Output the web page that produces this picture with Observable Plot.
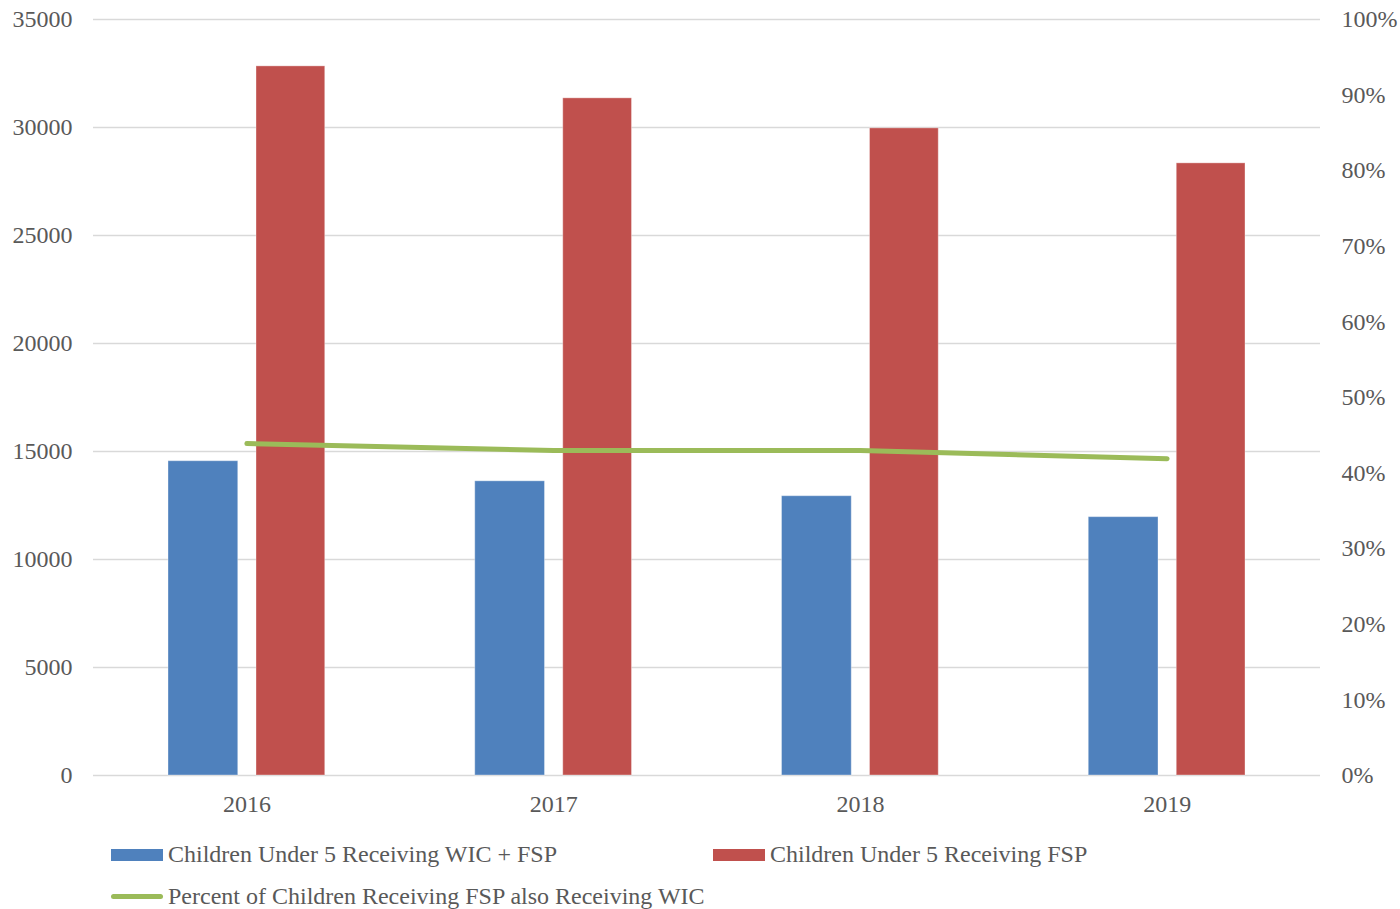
<!DOCTYPE html>
<html>
<head>
<meta charset="utf-8">
<script src="https://cdn.jsdelivr.net/npm/d3@7"></script>
<script src="https://cdn.jsdelivr.net/npm/@observablehq/plot@0.6"></script>
<style>
  html, body { margin: 0; padding: 0; background: #fff; }
  body { width: 1400px; font-family: "Liberation Serif", "Times New Roman", serif; color: #595959; }
  #chart svg { display: block; }
  .legend { position: relative; height: 84px; font-size: 24px; }
  .item { position: absolute; display: flex; align-items: center; white-space: nowrap; }
  .sw { width: 52px; height: 12px; margin-right: 5px; }
  .ln { width: 52px; height: 5px; border-radius: 3px; margin-right: 5px; }
</style>
</head>
<body>
<div id="chart"></div>
<div class="legend">
  <div class="item" style="left:111px; top:16px;"><span class="sw" style="background:#4F81BD"></span><span id="l0"></span></div>
  <div class="item" style="left:713px; top:16px;"><span class="sw" style="background:#C0504D"></span><span id="l1"></span></div>
  <div class="item" style="left:111px; top:58px;"><span class="ln" style="background:#9BBB59"></span><span id="l2"></span></div>
</div>
<script>
// Yearly counts of children under 5 and the share receiving both programs
const years = ["2016", "2017", "2018", "2019"];
const wicFsp = [14550, 13620, 12930, 11960];
const fspOnly = [32830, 31350, 29960, 28340];
const pctBoth = [43.9, 43.0, 43.0, 41.9];

const seriesNames = [
  "Children Under 5 Receiving WIC + FSP",
  "Children Under 5 Receiving FSP",
  "Percent of Children Receiving FSP also Receiving WIC"
];
const leftTicks = [0, 5000, 10000, 15000, 20000, 25000, 30000, 35000];
const rightTicks = [0, 10, 20, 30, 40, 50, 60, 70, 80, 90, 100];

const yMax = 35000;            // left axis top; right axis 100% maps here
const toLeft = p => p / 100 * yMax;

const rows = years.map((year, i) => ({
  year, wic: wicFsp[i], fsp: fspOnly[i], pct: pctBoth[i]
}));

const chart = Plot.plot({
  width: 1400,
  height: 825,
  marginTop: 19,
  marginBottom: 50,
  marginLeft: 93,
  marginRight: 80,
  style: { fontFamily: "Liberation Serif, Times New Roman, serif", fontSize: "24px", color: "#595959", background: "#fff" },
  x: { type: "band", domain: years, padding: 0, round: false },
  y: { domain: [0, yMax] },
  marks: [
    Plot.ruleY(leftTicks, { stroke: "#d9d9d9", strokeWidth: 1.5 }),
    Plot.barY(rows, { x: "year", y: "wic", fill: "#4F81BD", stroke: "#ffffff", strokeOpacity: 0.35, insetLeft: 75, insetRight: 162 }),
    Plot.barY(rows, { x: "year", y: "fsp", fill: "#C0504D", stroke: "#ffffff", strokeOpacity: 0.35, insetLeft: 163, insetRight: 75 }),
    Plot.line(rows, { x: "year", y: d => toLeft(d.pct), stroke: "#9BBB59", strokeWidth: 5, strokeLinecap: "round", strokeLinejoin: "round" }),
    Plot.axisY(leftTicks, { anchor: "left", tickSize: 0, tickPadding: 21, label: null, tickFormat: d => String(d) }),
    Plot.axisY(rightTicks.map(toLeft), { anchor: "right", tickSize: 0, tickPadding: 21, textAnchor: "start", label: null, tickFormat: v => Math.round(v / yMax * 100) + "%" }),
    Plot.axisX({ tickSize: 0, tickPadding: 19, label: null })
  ]
});
document.getElementById("chart").append(chart);
seriesNames.forEach((n, i) => document.getElementById("l" + i).textContent = n);
</script>
</body>
</html>
